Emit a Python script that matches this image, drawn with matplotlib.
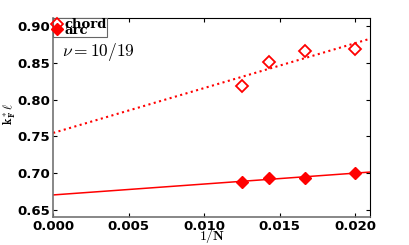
import numpy as np
import matplotlib
matplotlib.use('Agg')
import matplotlib.pyplot as plt

plt.rcParams['mathtext.fontset'] = 'cm'

invN = [1/80, 1/70, 1/60, 1/50]
chord = [0.819, 0.852, 0.867, 0.869]
arc = [0.688, 0.6925, 0.6935, 0.700]

xfit = np.array([0.0, 0.021])
pc = np.polyfit(invN, chord, 1)
pa = np.polyfit(invN, arc, 1)

fig = plt.figure(figsize=(4.09, 2.45), dpi=100)
ax = fig.add_axes([0.13, 0.115, 0.775, 0.81])

ax.plot(invN, chord, 'D', ms=6, mfc='none', mec='r', mew=1.3, label='chord')
ax.plot(invN, arc, 'D', ms=6, mfc='r', mec='r', label='arc')
ax.plot(xfit, np.polyval(pc, xfit), 'r:', lw=1.5)
ax.plot(xfit, np.polyval(pa, xfit), 'r-', lw=1.1)

ax.set_xlim(0, 0.021)
ax.set_ylim(0.640, 0.911)
ax.set_xticks([0.000, 0.005, 0.010, 0.015, 0.020])
ax.set_yticks([0.65, 0.70, 0.75, 0.80, 0.85, 0.90])
ax.set_xticklabels(['0.000', '0.005', '0.010', '0.015', '0.020'])
ax.tick_params(direction='in', top=True, right=True, length=3, labelsize=9.5, pad=2)
for lab in ax.get_xticklabels() + ax.get_yticklabels():
    lab.set_fontweight('bold')
for s in ['left', 'bottom']:
    ax.spines[s].set_color('0.45')
    ax.spines[s].set_linewidth(1.2)

ax.set_xlabel(r'$\mathbf{1/N}$', fontsize=10, labelpad=-4)
ax.set_ylabel(r'$\mathbf{k_F^*}\ell$', fontsize=9)
ax.yaxis.set_label_coords(-0.112, 0.52)

ax.text(0.0006, 0.859, r'$\nu=\mathbf{10/19}$', fontsize=12.5, va='baseline')

leg = ax.legend(loc='upper left', borderaxespad=0, borderpad=0.0, labelspacing=-0.55,
                handlelength=0.6, handletextpad=0.25, fancybox=False, framealpha=1,
                prop={'family': 'DejaVu Serif', 'weight': 'bold', 'size': 9.5})
leg.get_frame().set_edgecolor('0.4')
leg.get_frame().set_linewidth(0.8)

fig.savefig('out.png', dpi=100)
